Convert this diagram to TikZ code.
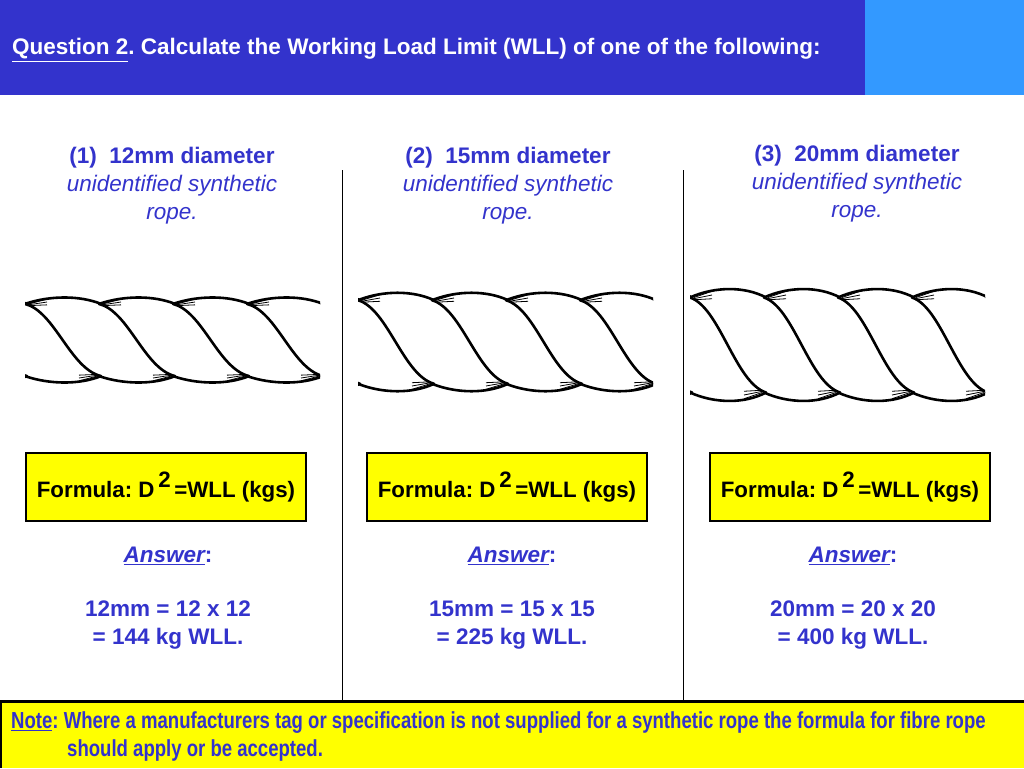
\documentclass[tikz,border=0pt]{standalone}
\usepackage{fontspec}
\setmainfont{Liberation Sans}
\newfontfamily\narrowf[FakeStretch=0.80]{Liberation Sans}
\frenchspacing
\definecolor{hdr}{HTML}{3333CC}
\definecolor{hdrr}{HTML}{3399FF}
\definecolor{txtb}{HTML}{3333CC}
\definecolor{yel}{HTML}{FFFF00}
\tikzset{
  coltxt/.style={text=txtb,font=\fontsize{22.5}{26}\selectfont,align=center,inner sep=0pt},
  fbox/.style={draw=black,line width=2.5pt,fill=yel,minimum width=280pt,minimum height=68pt,font=\bfseries\fontsize{22.3}{26}\selectfont,inner sep=0pt},
  ropeline/.style={line width=2.6pt,line cap=round},
  fiber/.style={line width=0.8pt}
}
\newcommand{\ropedraw}{%
  \begin{scope}
  \clip (0,-15) rectangle (295,95);
  \foreach \t in {-148,-74,0,74,148,222,296}{
    \draw[ropeline] (\t,2) .. controls (\t+25,-7) and (\t+55,-7) .. (\t+76,2);
    \draw[ropeline] (\t,2) .. controls (\t+30,10) and (\t+45,70) .. (\t+76,78);
    \draw[ropeline] (\t,78) .. controls (\t+25,87) and (\t+55,87) .. (\t+76,78);
    \foreach \d in {0,3,6}{
      \draw[fiber] (\t+4,2+\d*0.3) -- (\t+22,-3+\d);
      \draw[fiber] (\t+72,78-\d*0.3) -- (\t+54,83-\d);
    }
  }
  \end{scope}}
\begin{document}
\begin{tikzpicture}[x=1pt,y=-1pt]
\useasboundingbox (0,0) rectangle (1024,768);
\fill[white] (0,0) rectangle (1024,768);
\fill[hdr] (0,0) rectangle (865,95);
\fill[hdrr] (865,0) rectangle (1024,95);
\node[anchor=west,text=white,font=\bfseries\fontsize{22.5}{26}\selectfont,inner sep=0pt] (title) at (12,50) {\underline{Question 2}. Calculate the Working Load Limit (WLL) of one of the following:};
\draw[line width=0.8pt] (342,170) coordinate (v1a) -- (342,700) coordinate (v1b);
\draw[line width=0.8pt] (683,170) coordinate (v2a) -- (683,700) coordinate (v2b);
% column headings
\node[coltxt] (h1) at (172,186) {\textbf{(1)\ \ 12mm diameter}\\[2pt]\itshape unidentified synthetic\\[2pt]\itshape rope.};
\node[coltxt] (h2) at (508,186) {\textbf{(2)\ \ 15mm diameter}\\[2pt]\itshape unidentified synthetic\\[2pt]\itshape rope.};
\node[coltxt] (h3) at (857,184) {\textbf{(3)\ \ 20mm diameter}\\[2pt]\itshape unidentified synthetic\\[2pt]\itshape rope.};
% ropes
\begin{scope}[shift={(25,302)},yscale=0.95]\ropedraw\end{scope}
\begin{scope}[shift={(358,298)},yscale=1.1]\ropedraw\end{scope}
\begin{scope}[shift={(690,295)},yscale=1.25]\ropedraw\end{scope}
% formula boxes
\node[fbox] (f1) at (166,487) {Formula: D\raisebox{10pt}{\,2\,}=WLL (kgs)};
\node[fbox] (f2) at (507,487) {Formula: D\raisebox{10pt}{\,2\,}=WLL (kgs)};
\node[fbox] (f3) at (850,487) {Formula: D\raisebox{10pt}{\,2\,}=WLL (kgs)};
% answers
\node[coltxt,font=\bfseries\fontsize{22.5}{26}\selectfont] (a1) at (168,598) {\textit{\underline{Answer}}:\\[28pt]12mm = 12 x 12\\[2pt]= 144 kg WLL.};
\node[coltxt,font=\bfseries\fontsize{22.5}{26}\selectfont] (a2) at (512,598) {\textit{\underline{Answer}}:\\[28pt]15mm = 15 x 15\\[2pt]= 225 kg WLL.};
\node[coltxt,font=\bfseries\fontsize{22.5}{26}\selectfont] (a3) at (853,598) {\textit{\underline{Answer}}:\\[28pt]20mm = 20 x 20\\[2pt]= 400 kg WLL.};
% note
\fill[yel] (0,701) rectangle (1024,768);
\draw[line width=3pt] (0,768) -- (0,701) -- (1024,701);
\node[anchor=west,text=txtb,font=\narrowf\bfseries\fontsize{23.2}{27}\selectfont,inner sep=0pt] (n1) at (11,723) {\underline{Note}: Where a manufacturers tag or specification is not supplied for a synthetic rope the formula for fibre rope};
\node[anchor=west,text=txtb,font=\narrowf\bfseries\fontsize{23.2}{27}\selectfont,inner sep=0pt] (n2) at (67,750) {should apply or be accepted.};
\end{tikzpicture}
\end{document}
